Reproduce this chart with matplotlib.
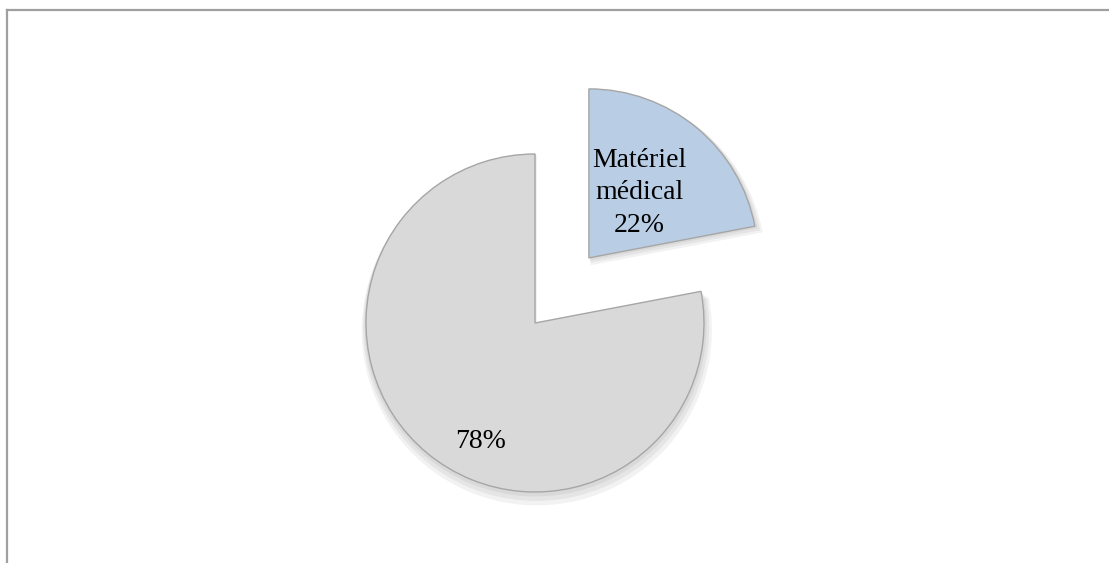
import matplotlib.pyplot as plt
from matplotlib.lines import Line2D

# pie: two slices, the medical one pulled out
labels = ["Matériel\nmédical", ""]
values = [22, 78]
colors = ["#B9CDE5", "#D9D9D9"]
explode = [0.5, 0.0]

fig = plt.figure(figsize=(11.09, 5.63), dpi=100)
ax = fig.add_axes([0, 0, 1, 1])


def fmt(pct):
    return "%d%%" % round(pct)


# soft shadow under the slices
for k, a in enumerate([0.05, 0.05, 0.05]):
    off = 0.012 * (k + 1)
    sh, _ = ax.pie(values, explode=explode, startangle=90, counterclock=False,
                   radius=1.0 + off, colors=["#000000", "#000000"],
                   wedgeprops=dict(linewidth=0, alpha=a))
    for w in sh:
        w.set_center((w.center[0] + off * 0.3, w.center[1] - off * 1.2))

wedges, texts, autotexts = ax.pie(values, explode=explode, startangle=90,
                                  counterclock=False, colors=colors,
                                  autopct=fmt, pctdistance=0.49,
                                  labeldistance=0.49,
                                  wedgeprops=dict(edgecolor="#a6a6a6", linewidth=1.0),
                                  textprops=dict(family="Liberation Serif", fontsize=20,
                                                 color="#000000"))

# 1 unit of radius = 169 px, grey centre at pixel (535, 323)
r_px = 169.0
cx, cy = 535.0, 563 - 323.0
ax.set_aspect("auto")
ax.set_xlim(-cx / r_px, (1109 - cx) / r_px)
ax.set_ylim(-cy / r_px, (563 - cy) / r_px)
ax.axis("off")

# blue: name and percentage on three lines, inside the slice
bx, by = wedges[0].center
texts[0].set_text("")
autotexts[0].set_text(labels[0] + "\n" + autotexts[0].get_text())
autotexts[0].set_position((bx + 0.30, by + 0.385))
autotexts[0].set_linespacing(1.38)
autotexts[0].set_ha("center")
autotexts[0].set_va("center")

# grey: percentage near the bottom left
texts[1].set_text("")
autotexts[1].set_position((-0.325, -0.70))

# frame lines on the left and top
fig.add_artist(Line2D([7 / 1109, 7 / 1109], [0, 1 - 10 / 563],
                      transform=fig.transFigure, color="#a0a0a0", linewidth=1.6))
fig.add_artist(Line2D([7 / 1109, 1], [1 - 10 / 563, 1 - 10 / 563],
                      transform=fig.transFigure, color="#a0a0a0", linewidth=1.6))

fig.savefig("out.png", dpi=100)
